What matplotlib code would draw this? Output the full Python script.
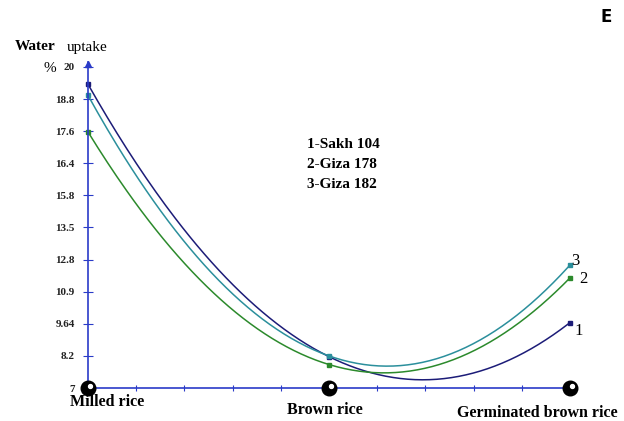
import matplotlib.pyplot as plt
import numpy as np

# categories on the x axis
categories = ["Milled rice", "Brown rice", "Germinated brown rice"]
# water uptake (%)
sakh_104 = [19.3, 8.27, 9.65]
giza_178 = [17.37, 7.95, 11.46]
giza_182 = [18.85, 8.3, 11.98]
series_names = ["1-Sakh 104", "2-Giza 178", "3-Giza 182"]
ytick_values = [7, 8.3, 9.6, 10.9, 12.2, 13.5, 14.8, 16.1, 17.4, 18.7, 20]
ytick_labels = ["7", "8.2", "9.64", "10.9", "12.8", "13.5", "15.8", "16.4", "17.6", "18.8", "20"]

serif = "Liberation Serif"
axis_blue = "#2a3bc8"
colors = ["#1c1c78", "#2c8a2c", "#2b8f9c"]

fig = plt.figure(figsize=(6.24, 4.21), dpi=100)
ax = fig.add_axes([88 / 624, 1 - 388 / 421, 482 / 624, 326 / 421])

xpos = np.arange(len(categories))
xs = np.linspace(0, 2, 200)
label_dx = [0.02, 0.04, 0.005]
label_dy = [-0.35, -0.05, 0.15]
for vals, c, num, dx, dy in zip([sakh_104, giza_178, giza_182], colors, ["1", "2", "3"], label_dx, label_dy):
    coef = np.polyfit(xpos, vals, 2)
    ax.plot(xs, np.polyval(coef, xs), color=c, lw=1.1, clip_on=False)
    ax.plot(xpos, vals, "s", color=c, ms=3, clip_on=False)
    ax.text(2 + dx, vals[-1] + dy, num, fontsize=12, family=serif, va="center", ha="left")

ax.set_xlim(0, 2)
ax.set_ylim(7, 20.2)

for s in ["top", "right"]:
    ax.spines[s].set_visible(False)
for s in ["left", "bottom"]:
    ax.spines[s].set_color(axis_blue)
    ax.spines[s].set_linewidth(1.2)

ax.set_yticks(ytick_values)
ax.set_yticklabels(ytick_labels, fontsize=8, fontweight="bold", family=serif, color="#222222")
ax.tick_params(axis="y", direction="inout", length=7, color=axis_blue, pad=6)
ax.set_xticks(np.arange(0, 2.01, 0.2))
ax.set_xticklabels([])
ax.tick_params(axis="x", direction="inout", length=5, color=axis_blue, width=0.8)

# arrow head on y axis
ax.plot(0, 20.1, marker="^", color=axis_blue, ms=5, clip_on=False)

# big black balls at category positions
ax.scatter(xpos, [7] * 3, s=110, color="black", zorder=5, clip_on=False)
ax.scatter(xpos + 0.01, [7.1] * 3, s=8, color="white", zorder=6, clip_on=False)

# category labels
fig.text(70 / 624, 1 - 402 / 421, categories[0], fontsize=11.5, fontweight="bold", family=serif, va="center")
fig.text(325 / 624, 1 - 410 / 421, categories[1], fontsize=11.5, fontweight="bold", family=serif, va="center", ha="center")
fig.text(618 / 624, 1 - 413 / 421, categories[2], fontsize=11.5, fontweight="bold", family=serif, va="center", ha="right")

# legend text
for i, name in enumerate(series_names):
    fig.text(307 / 624, 1 - (145 + 20 * i) / 421, name, fontsize=11, fontweight="bold", family=serif, va="center")

fig.text(15 / 624, 1 - 47 / 421, "Water", fontsize=11, fontweight="bold", family=serif, va="center")
fig.text(67 / 624, 1 - 47 / 421, "uptake", fontsize=11, family=serif, va="center")
fig.text(44 / 624, 1 - 68 / 421, "%", fontsize=11, family=serif, va="center")
fig.text(612 / 624, 1 - 17 / 421, "E", fontsize=12, fontweight="bold", family="DejaVu Sans", va="center", ha="right")

fig.savefig("out.png", dpi=100)
